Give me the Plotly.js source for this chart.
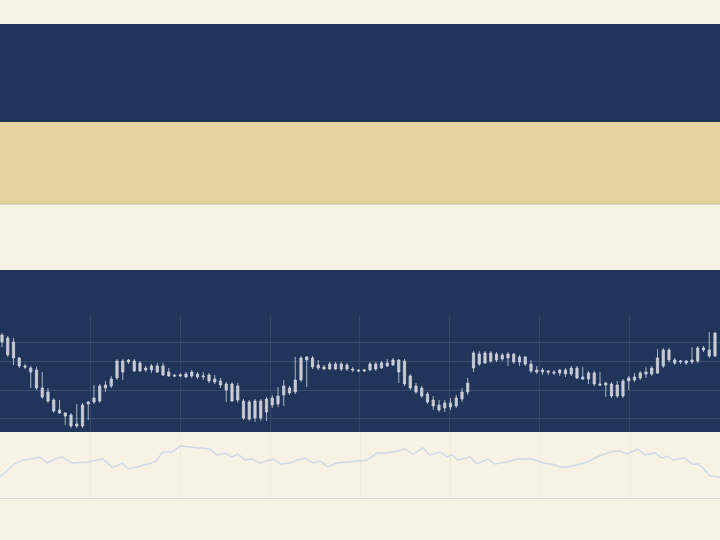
<!DOCTYPE html>
<html>
<head>
<meta charset="utf-8">
<script src="https://cdn.plot.ly/plotly-3.0.1.min.js"></script>
<style>html,body{margin:0;padding:0;background:#f8f2e5;}#chart{width:720px;height:540px;}</style>
</head>
<body>
<div id="chart"></div>
<script>
// Candlestick series (arbitrary price units)
const candleOpen = [15.8,16.2,15.8,14.2,13.4,13.2,13.0,11.2,10.8,10.0,9.0,8.7,8.5,7.4,7.4,9.6,9.8,9.9,11.2,11.4,12.2,12.8,13.8,13.9,13.7,
  13.2,13.0,12.8,13.4,12.8,12.5,12.4,12.6,12.4,12.6,12.3,12.5,12.1,11.9,11.6,11.6,11.4,9.9,9.8,8.2,9.9,8.8,9.5,9.6,10.5,
  10.7,10.8,12.0,14.0,14.2,13.5,13.3,13.1,13.6,13.1,13.5,13.1,13.0,12.9,13.0,13.6,13.2,13.7,13.5,14.0,13.9,12.4,11.4,11.2,10.6,
  10.0,9.5,9.2,9.7,9.4,10.1,10.8,13.2,14.6,13.7,14.7,14.0,14.5,14.2,14.6,13.8,14.3,13.6,13.0,12.8,12.9,12.8,12.7,13.0,12.6,
  13.2,12.3,12.1,12.7,11.6,11.7,11.6,10.4,10.4,11.9,12.0,12.2,12.6,12.6,12.7,13.4,15.0,14.0,13.8,13.9,13.8,13.9,15.0,15.0,14.4];
const candleHigh = [16.7,16.4,16.2,14.3,13.6,13.4,13.3,12.8,11.2,10.2,10.0,8.8,8.7,9.6,9.7,9.9,11.5,11.6,11.9,12.4,14.1,14.1,14.1,14.1,13.9,
  13.4,13.6,13.7,13.7,13.2,12.6,12.7,12.8,13.0,12.8,12.8,12.7,12.5,12.2,11.8,11.8,11.7,10.1,10.0,10.1,10.1,10.3,10.5,11.3,12.0,
  11.4,14.3,14.4,14.4,14.4,14.0,13.5,13.8,13.8,13.8,13.7,13.3,13.1,13.1,13.8,13.8,13.9,14.1,14.2,14.1,14.1,12.6,11.7,11.4,10.8,
  10.4,10.0,10.0,10.2,10.5,11.2,12.2,14.9,14.9,14.9,14.9,14.8,14.7,14.8,14.7,14.5,14.4,14.0,13.4,13.2,13.0,13.0,13.1,13.2,13.4,
  13.4,13.3,12.9,12.9,12.8,11.8,11.8,11.9,12.1,12.4,12.7,12.9,13.3,13.4,15.1,15.2,15.2,14.2,14.0,14.0,15.3,15.4,15.4,16.8,16.8];
const candleLow = [15.3,14.3,13.5,13.2,13.1,11.2,11.0,10.1,9.7,8.7,8.6,7.5,7.2,7.2,7.2,8.0,9.6,9.7,10.8,11.2,12.0,12.0,13.6,12.8,12.8,
  12.8,12.7,12.7,12.4,12.3,12.3,12.3,12.2,12.2,12.1,12.0,11.7,11.6,11.2,9.8,9.8,9.7,8.0,7.9,7.8,7.9,7.9,9.2,9.3,9.4,
  10.5,10.6,11.8,11.3,13.1,13.0,13.0,13.0,13.0,12.9,12.9,12.8,12.8,12.8,12.9,12.9,13.1,13.3,13.4,11.7,11.4,11.0,10.6,10.2,9.6,
  9.0,8.8,8.8,9.0,9.2,9.8,10.5,12.8,13.4,13.6,13.7,13.8,13.9,13.4,13.6,13.4,13.4,12.7,12.6,12.5,12.5,12.5,12.4,12.3,12.4,
  12.1,12.0,11.6,11.4,11.4,10.3,10.2,10.2,10.2,11.0,11.8,12.0,12.2,12.4,12.6,13.2,13.8,13.5,13.6,13.5,13.6,13.7,14.8,14.2,14.3];
const candleClose = [16.5,14.5,14.2,13.4,13.3,12.8,11.2,10.3,9.9,8.9,8.7,8.4,7.4,7.6,9.5,9.8,10.2,11.4,11.5,12.1,13.9,13.9,14.0,12.9,12.9,
  13.0,13.4,13.4,12.5,12.4,12.4,12.5,12.3,12.8,12.3,12.4,11.9,11.8,11.5,11.0,9.9,10.0,8.2,8.1,9.9,8.2,10.1,10.2,10.4,11.4,
  11.2,12.0,14.2,14.3,13.3,13.2,13.1,13.6,13.1,13.6,13.1,13.0,12.9,13.0,13.6,13.1,13.7,13.4,14.0,12.8,11.6,11.2,10.8,10.4,9.8,
  9.4,9.0,9.7,9.3,10.2,10.8,11.7,14.7,13.6,14.7,13.9,14.6,14.1,14.6,13.8,14.3,13.6,12.9,12.8,13.0,12.8,12.7,13.0,12.6,13.2,
  12.2,12.1,12.7,11.6,11.5,11.5,10.4,11.5,11.9,12.2,12.3,12.7,12.8,13.2,14.2,15.0,14.0,13.7,13.9,13.7,14.0,15.2,15.2,14.4,16.7];
const candleIndex = candleOpen.map((_, i) => i);

// Indicator line in the lower panel
const lineT = [0,13,23,32,40,47,55,62,72,82,88,97,103,112,117,122,128,137,147,155,163,172,180,188,197,210,217,225,232,238,
  245,252,260,267,273,280,290,298,305,313,320,328,337,347,360,367,377,388,397,405,413,423,430,440,447,452,458,470,477,488,
  495,507,517,533,543,552,560,568,577,587,597,610,620,627,638,645,655,662,667,673,685,692,698,703,710,720];
const lineV = [2.3,3.5,4.0,4.1,4.3,3.7,4.1,4.3,3.7,3.8,3.8,4.0,4.1,3.3,3.4,3.7,3.1,3.3,3.6,3.8,4.8,4.8,5.4,5.3,5.2,5.1,4.5,4.7,4.3,4.6,
  4.0,4.1,3.7,3.9,4.1,3.6,3.7,4.0,4.2,3.7,3.9,3.3,3.7,3.8,3.9,4.0,4.7,4.7,4.9,5.1,4.6,5.2,4.5,4.8,4.3,4.5,4.0,4.3,3.6,4.1,
  3.6,3.8,4.1,4.1,3.7,3.6,3.3,3.3,3.5,3.8,4.3,4.8,4.9,4.6,5.1,4.5,4.7,4.2,4.4,4.0,4.2,3.6,3.6,3.2,2.4,2.3];

const candleGridVals = [8.1, 10.95, 13.8, 15.7];

const cream = '#f8f2e5', navy = '#21355a', tan = '#e8d3a0';
const candleCol = '#c6cbd4';

const traces = [
  {
    type: 'candlestick', x: candleIndex, open: candleOpen, high: candleHigh, low: candleLow, close: candleClose,
    xaxis: 'x', yaxis: 'y',
    increasing: {line: {color: '#cfd3da', width: 0.8}, fillcolor: candleCol},
    decreasing: {line: {color: '#cfd3da', width: 0.8}, fillcolor: candleCol},
    whiskerwidth: 0, hoverinfo: 'skip'
  },
  {
    type: 'scatter', mode: 'lines', x: lineT, y: lineV, xaxis: 'x2', yaxis: 'y2',
    line: {color: '#cdd8ea', width: 1.4}, hoverinfo: 'skip'
  }
];

const layout = {
  width: 720, height: 540,
  margin: {l: 0, r: 0, t: 0, b: 0, pad: 0},
  paper_bgcolor: cream, plot_bgcolor: 'rgba(0,0,0,0)',
  showlegend: false,
  boxgap: 0.45,
  xaxis: {
    domain: [0, 1], anchor: 'y', range: [-0.348, 124.87],
    tick0: 15.304, dtick: 15.652, showticklabels: false, ticks: '',
    showgrid: true, gridcolor: '#33466a', gridwidth: 1, zeroline: false, showline: false,
    rangeslider: {visible: false}, fixedrange: true
  },
  yaxis: {
    domain: [0.2, 0.41667], anchor: 'x', range: [6.8, 18.5],
    tickmode: 'array', tickvals: candleGridVals, showticklabels: false, ticks: '',
    showgrid: true, gridcolor: '#3a4c6d', gridwidth: 1, zeroline: false, showline: false, fixedrange: true
  },
  xaxis2: {
    domain: [0, 1], anchor: 'y2', range: [0, 720],
    tick0: 90, dtick: 90, showticklabels: false, ticks: '',
    showgrid: true, gridcolor: '#f1ebde', zeroline: false,
    showline: true, linecolor: '#d6d8db', linewidth: 1, fixedrange: true
  },
  yaxis2: {
    domain: [0.0778, 0.2], anchor: 'x2', range: [0.2, 6.8],
    showticklabels: false, ticks: '', showgrid: false, zeroline: false, showline: false, fixedrange: true
  },
  shapes: [
    {type: 'rect', xref: 'paper', yref: 'paper', x0: 0, x1: 1, y0: 0.77407, y1: 0.95556, fillcolor: navy, line: {width: 0}, layer: 'below'},
    {type: 'rect', xref: 'paper', yref: 'paper', x0: 0, x1: 1, y0: 0.62222, y1: 0.77407, fillcolor: tan, line: {width: 0}, layer: 'below'},
    {type: 'line', xref: 'paper', yref: 'paper', x0: 0, x1: 1, y0: 0.62222, y1: 0.62222, line: {color: '#bdb7aa', width: 1}, layer: 'below'},
    {type: 'rect', xref: 'paper', yref: 'paper', x0: 0, x1: 1, y0: 0.2, y1: 0.5, fillcolor: navy, line: {width: 0}, layer: 'below'}
  ]
};

Plotly.newPlot('chart', traces, layout, {staticPlot: true, displayModeBar: false});
</script>
</body>
</html>
